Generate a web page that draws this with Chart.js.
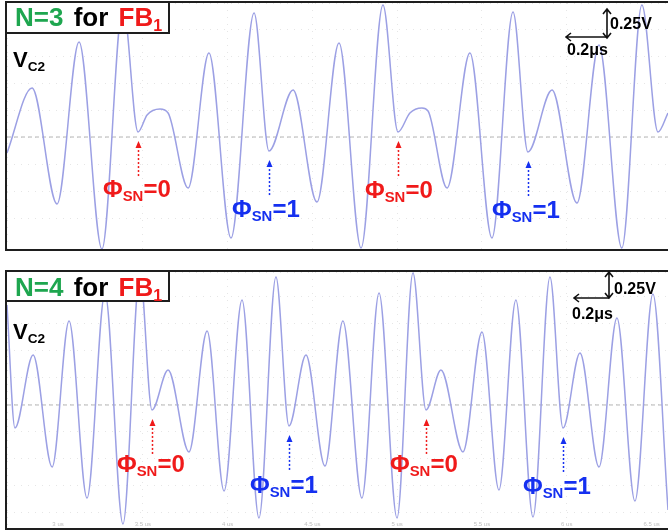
<!DOCTYPE html>
<html>
<head>
<meta charset="utf-8">
<script src="https://cdn.jsdelivr.net/npm/chart.js@4.4.0/dist/chart.umd.min.js"></script>
<style>
body{margin:0;width:668px;height:531px;overflow:hidden;background:#fff;position:relative;font-family:"Liberation Sans",Arial,sans-serif;font-weight:bold}
.frame{position:absolute;border:2px solid #1e1e1e}
canvas{position:absolute}
.tbox{position:absolute;border:2px solid #1e1e1e;background:#fff;z-index:2}
.lbl{position:absolute;line-height:1;white-space:nowrap;z-index:3}
sub{font-size:0.62em;vertical-align:-0.28em;line-height:0}
svg{position:absolute;left:0;top:0;z-index:3}
</style>
</head>
<body>
<div class="frame" style="left:5px;top:1px;width:700px;height:246px"></div>
<div class="frame" style="left:5px;top:270px;width:700px;height:256px"></div>
<canvas id="cTop" width="661" height="246" style="left:7px;top:3px"></canvas>
<canvas id="cBot" width="661" height="256" style="left:7px;top:272px"></canvas>
<div class="tbox" style="left:5px;top:1px;width:161px;height:29px"></div>
<div class="tbox" style="left:5px;top:270px;width:161px;height:28px"></div>

<!-- scale bars -->
<svg width="668" height="531" fill="none" stroke="#111" stroke-width="1.6">
  <path d="M607 10 L607 37 M603 14 L607 9 L611 14 M603 33 L607 38 L611 33"/>
  <path d="M567 37 L607 37 M571 33 L566 37 L571 41"/>
  <path d="M609 273 L609 297 M605 277 L609 272 L613 277 M605 293 L609 298 L613 293"/>
  <path d="M575 298 L609 298 M579 294 L574 298 L579 302"/>
</svg>

<script>
// waveform V_C2, N=3 (time in us, volts)
const topTime = [2.699, 2.847, 2.994, 3.124, 3.259, 3.383, 3.472, 3.525, 3.601, 3.649, 3.767, 3.890, 4.020, 4.156, 4.244, 4.386, 4.527, 4.657, 4.787, 4.916, 5.005, 5.075, 5.146, 5.182, 5.294, 5.429, 5.559, 5.683, 5.771, 5.913, 6.060, 6.190, 6.325, 6.443, 6.538, 6.597];
const topVolt = [-0.148, 0.454, -0.620, 0.880, -1.037, 1.222, 0.046, 0.204, 0.259, 0.222, -0.472, 0.778, -0.935, 1.148, -0.130, 0.435, -0.602, 0.870, -1.028, 1.222, 0.046, 0.222, 0.269, 0.241, -0.472, 0.778, -0.935, 1.157, -0.139, 0.435, -0.611, 0.852, -1.028, 1.222, 0.046, 0.222];

// waveform V_C2, N=4
const botTime = [2.699, 2.746, 2.853, 2.965, 3.065, 3.171, 3.277, 3.383, 3.483, 3.554, 3.649, 3.772, 3.879, 3.979, 4.085, 4.185, 4.285, 4.362, 4.462, 4.574, 4.680, 4.792, 4.893, 4.999, 5.093, 5.170, 5.258, 5.388, 5.500, 5.600, 5.700, 5.801, 5.901, 5.978, 6.078, 6.190, 6.296, 6.402, 6.508, 6.597];
const botVolt = [0.926, -0.213, 0.463, -0.574, 0.778, -0.861, 1.037, -1.102, 1.222, -0.046, 0.324, -0.435, 0.685, -0.796, 0.972, -1.046, 1.185, -0.194, 0.463, -0.565, 0.778, -0.861, 1.037, -1.046, 1.222, -0.046, 0.324, -0.435, 0.676, -0.787, 0.972, -1.037, 1.185, -0.213, 0.481, -0.574, 0.806, -0.889, 1.028, -0.972];

// which points are the marked dips, and their phase
const topDips = [6, 14, 20, 28];
const botDips = [9, 17, 25, 33];
const dipPhase = [0, 1, 0, 1];

const timeTicks = [3, 3.5, 4, 4.5, 5, 5.5, 6, 6.5];
const timeTickLabels = ['3 us', '3.5 us', '4 us', '4.5 us', '5 us', '5.5 us', '6 us', '6.5 us'];

const RED = '#f01a1a', BLUE = '#1530f0', GREEN = '#1ea64f';

function makeChart(id, times, volts, yMin, yMax, dips, showTimes) {
    var pts = times.map(function (t, i) { return {x: t, y: volts[i]}; });
    var xMin = times[0], xMax = times[times.length - 1];

    var overlay = {
        id: 'overlay' + id,
        afterDatasetsDraw: function (chart) {
            var ctx = chart.ctx, xs = chart.scales.x, ys = chart.scales.y;
            dips.forEach(function (idx, k) {
                var px = Math.round(xs.getPixelForValue(times[idx])) + 0.5;
                var tip = ys.getPixelForValue(volts[idx]) + 9;
                var col = dipPhase[k] === 0 ? RED : BLUE;
                ctx.save();
                ctx.strokeStyle = col;
                ctx.fillStyle = col;
                ctx.lineWidth = 1.5;
                ctx.setLineDash([2, 2]);
                ctx.beginPath();
                ctx.moveTo(px, tip + 5);
                ctx.lineTo(px, tip + 35);
                ctx.stroke();
                ctx.setLineDash([]);
                ctx.beginPath();
                ctx.moveTo(px, tip);
                ctx.lineTo(px - 3, tip + 7);
                ctx.lineTo(px + 3, tip + 7);
                ctx.closePath();
                ctx.fill();
                ctx.restore();
            });
            if (showTimes) {
                ctx.save();
                ctx.fillStyle = '#c0c0c0';
                ctx.font = '6px "Liberation Sans", Arial';
                ctx.textAlign = 'center';
                ctx.textBaseline = 'bottom';
                timeTicks.forEach(function (t, i) {
                    ctx.fillText(timeTickLabels[i], xs.getPixelForValue(t), chart.chartArea.bottom - 1);
                });
                ctx.restore();
            }
        }
    };

    return new Chart(document.getElementById(id), {
        type: 'line',
        data: {
            datasets: [{
                data: pts,
                borderColor: '#9ca0e4',
                borderWidth: 1.5,
                pointRadius: 0,
                cubicInterpolationMode: 'monotone',
                order: 1
            }, {
                // zero reference line
                data: [{x: xMin, y: 0}, {x: xMax, y: 0}],
                borderColor: '#b4b4b4',
                borderWidth: 1,
                borderDash: [4, 3],
                pointRadius: 0,
                order: 2
            }]
        },
        options: {
            responsive: false,
            animation: false,
            events: [],
            layout: {padding: 0},
            plugins: {legend: {display: false}, tooltip: {enabled: false}},
            scales: {
                x: {
                    type: 'linear', min: xMin, max: xMax,
                    ticks: {display: false, stepSize: 0.5},
                    grid: {color: '#e6e6e6', drawTicks: false},
                    border: {display: false, dash: [1, 6]}
                },
                y: {
                    min: yMin, max: yMax,
                    ticks: {display: false, stepSize: 0.25},
                    grid: {color: '#e6e6e6', drawTicks: false},
                    border: {display: false, dash: [1, 6]}
                }
            }
        },
        plugins: [overlay]
    });
}

makeChart('cTop', topTime, topVolt, -1.037, 1.241, topDips, false);
makeChart('cBot', botTime, botVolt, -1.139, 1.231, botDips, true);

// text labels: html, left, baseline, font size
const texts = [
    ['<span style="color:' + GREEN + '">N=3</span> for <span style="color:' + RED + '">FB<sub>1</sub></span>', 15, 26, 26],
    ['<span style="color:' + GREEN + '">N=4</span> for <span style="color:' + RED + '">FB<sub>1</sub></span>', 15, 296, 26],
    ['V<sub>C2</sub>', 13, 68, 22],
    ['V<sub>C2</sub>', 13, 340, 22],
    ['<span style="color:' + RED + '">&Phi;<sub>SN</sub>=0</span>', 103, 197, 24],
    ['<span style="color:' + BLUE + '">&Phi;<sub>SN</sub>=1</span>', 232, 217, 24],
    ['<span style="color:' + RED + '">&Phi;<sub>SN</sub>=0</span>', 365, 198, 24],
    ['<span style="color:' + BLUE + '">&Phi;<sub>SN</sub>=1</span>', 492, 218, 24],
    ['<span style="color:' + RED + '">&Phi;<sub>SN</sub>=0</span>', 117, 472, 24],
    ['<span style="color:' + BLUE + '">&Phi;<sub>SN</sub>=1</span>', 250, 493, 24],
    ['<span style="color:' + RED + '">&Phi;<sub>SN</sub>=0</span>', 390, 472, 24],
    ['<span style="color:' + BLUE + '">&Phi;<sub>SN</sub>=1</span>', 523, 494, 24],
    ['0.25V', 610, 30, 16],
    ['0.2&mu;s', 567, 56, 16],
    ['0.25V', 614, 295, 16],
    ['0.2&mu;s', 572, 320, 16]
];
texts.forEach(function (t) {
    var d = document.createElement('div');
    d.className = 'lbl';
    d.innerHTML = t[0];
    d.style.left = t[1] + 'px';
    d.style.top = (t[2] - 0.846 * t[3]) + 'px';
    d.style.fontSize = t[3] + 'px';
    if (t[3] === 26) d.style.wordSpacing = '3px';
    document.body.appendChild(d);
});
</script>
</body>
</html>
